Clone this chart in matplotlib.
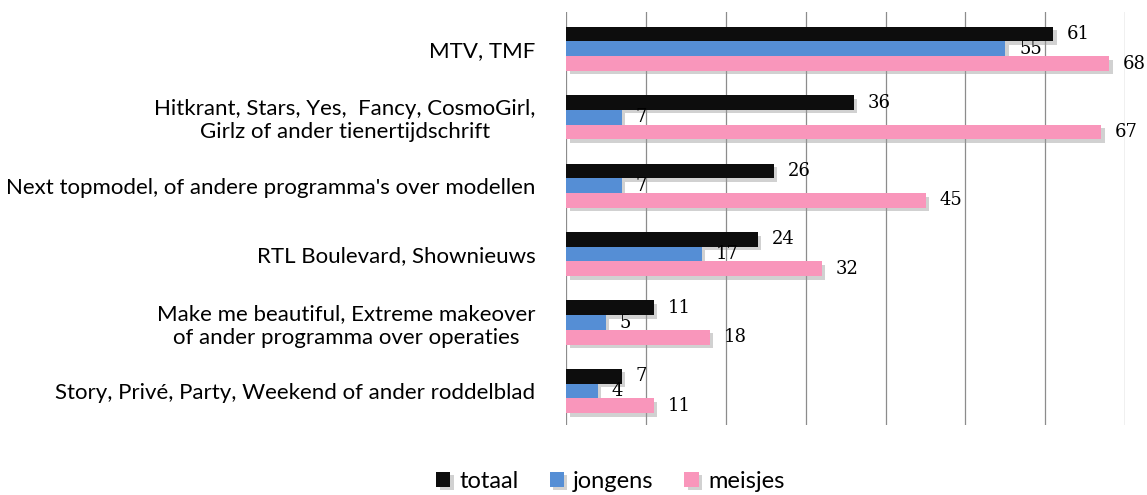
import numpy as np
import matplotlib
matplotlib.use("Agg")
import matplotlib.pyplot as plt
from matplotlib import patheffects as pe

categories = [
    "MTV, TMF",
    "Hitkrant, Stars, Yes,  Fancy, CosmoGirl,\nGirlz of ander tienertijdschrift",
    "Next topmodel, of andere programma's over modellen",
    "RTL Boulevard, Shownieuws",
    "Make me beautiful, Extreme makeover\nof ander programma over operaties",
    "Story, Privé, Party, Weekend of ander roddelblad",
]
totaal = [61, 36, 26, 24, 11, 7]
jongens = [55, 7, 7, 17, 5, 4]
meisjes = [68, 67, 45, 32, 18, 11]

series = [("totaal", totaal, "#0d0d0d"),
          ("jongens", jongens, "#558ed5"),
          ("meisjes", meisjes, "#f996bb")]

fig = plt.figure(figsize=(11.47, 4.95), dpi=100)
ax = fig.add_axes([0.4935, 0.141, 0.4875, 0.835])

y = np.arange(len(categories))
h = 0.215
shadow = [pe.SimplePatchShadow(offset=(2.5, -2.5), shadow_rgbFace="#999999", alpha=0.45),
          pe.Normal()]
for k, (name, vals, col) in enumerate(series):
    pos = y + (k - 1) * h
    bars = ax.barh(pos, vals, height=h, color=col, label=name, zorder=3)
    for b in bars:
        b.set_path_effects(shadow)
    for p, v in zip(pos, vals):
        ax.annotate(str(v), (v, p), xytext=(10, 0), textcoords="offset points",
                    va="center", ha="left", fontsize=13,
                    family="DejaVu Serif", zorder=4)

ax.set_xlim(0, 70)
ax.set_ylim(5.5, -0.54)
ax.set_xticks(np.arange(0, 71, 10))
ax.set_xticklabels([])
ax.tick_params(axis="x", length=0)
ax.tick_params(axis="y", length=0, pad=22)
ax.grid(axis="x", color="#8c8c8c", linewidth=0.9, zorder=0)
ax.set_yticks(y)
ax.set_yticklabels(categories, fontsize=16, family="Lato", multialignment="center")
for s in ax.spines.values():
    s.set_visible(False)

leg = ax.legend(loc="center", bbox_to_anchor=(0.079, -0.135), ncol=3, frameon=False,
                handlelength=0.6, handleheight=0.6, handletextpad=0.4,
                columnspacing=1.3, prop={"family": "Lato", "size": 17})

fig.savefig("out.png", dpi=100)
